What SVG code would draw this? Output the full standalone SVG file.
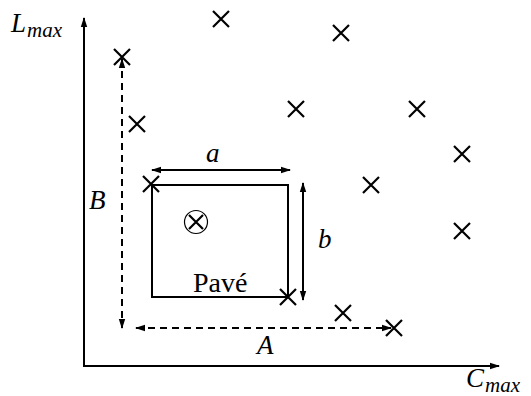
<svg xmlns="http://www.w3.org/2000/svg" width="531" height="396" viewBox="0 0 531 396">
<style>
.ln{stroke:#000;stroke-width:2;fill:none}
.ds{stroke:#000;stroke-width:2;fill:none;stroke-dasharray:7 5}
.x{stroke:#000;stroke-width:2.2;fill:none}
.t{font-family:"Liberation Serif",serif;fill:#000}
.i{font-style:italic}
</style>
<defs>
<marker id="ah" markerUnits="userSpaceOnUse" markerWidth="12" markerHeight="10" refX="9" refY="4" orient="auto-start-reverse">
<path d="M0,0.8 L10,4 L0,7.2 z" fill="#000"/>
</marker>
<g id="cr"><path class="x" d="M-8,-8 L8,8 M-8,8 L8,-8"/></g>
</defs>
<rect width="531" height="396" fill="#fff"/>
<g id="axes">
<line class="ln" x1="84" y1="367" x2="84" y2="18" marker-end="url(#ah)"/>
<line class="ln" x1="83" y1="366" x2="499" y2="366" marker-end="url(#ah)"/>
<text class="t i" x="11" y="32" font-size="27">L<tspan font-size="21" dy="5" dx="1">max</tspan></text>
<text class="t i" x="466" y="387" font-size="27">C<tspan font-size="21" dy="5" dx="1">max</tspan></text>
</g>
<g id="points">
<use href="#cr" x="221" y="19"/>
<use href="#cr" x="341" y="33"/>
<use href="#cr" x="122" y="57"/>
<use href="#cr" x="137" y="124"/>
<use href="#cr" x="296" y="109"/>
<use href="#cr" x="417" y="109"/>
<use href="#cr" x="462" y="154"/>
<use href="#cr" x="371" y="185"/>
<use href="#cr" x="462" y="231"/>
<use href="#cr" x="151" y="184"/>
<use href="#cr" x="288" y="297"/>
<use href="#cr" x="343" y="313"/>
<use href="#cr" x="394" y="328"/>
</g>
<g id="pave">
<rect class="ln" x="152" y="185" width="136" height="112"/>
<text class="t" x="193" y="292" font-size="28">Pavé</text>
</g>
<g id="center">
<circle cx="196" cy="222" r="11.5" stroke="#000" stroke-width="1.2" fill="none"/>
<path class="x" d="M189,215 L203,229 M189,229 L203,215"/>
</g>
<g id="connectors">
<line class="ln" x1="152" y1="170" x2="290" y2="170" marker-start="url(#ah)" marker-end="url(#ah)"/>
<line class="ln" x1="303" y1="183" x2="303" y2="300" marker-start="url(#ah)" marker-end="url(#ah)"/>
<line class="ds" x1="122" y1="59" x2="122" y2="328" marker-start="url(#ah)" marker-end="url(#ah)"/>
<line class="ds" x1="136" y1="328" x2="391" y2="328" marker-start="url(#ah)" marker-end="url(#ah)"/>
</g>
<g id="labels">
<text class="t i" x="206" y="162" font-size="27">a</text>
<text class="t i" x="318" y="248" font-size="27">b</text>
<text class="t i" x="89" y="209" font-size="27">B</text>
<text class="t i" x="257" y="354" font-size="27">A</text>
</g>
</svg>
